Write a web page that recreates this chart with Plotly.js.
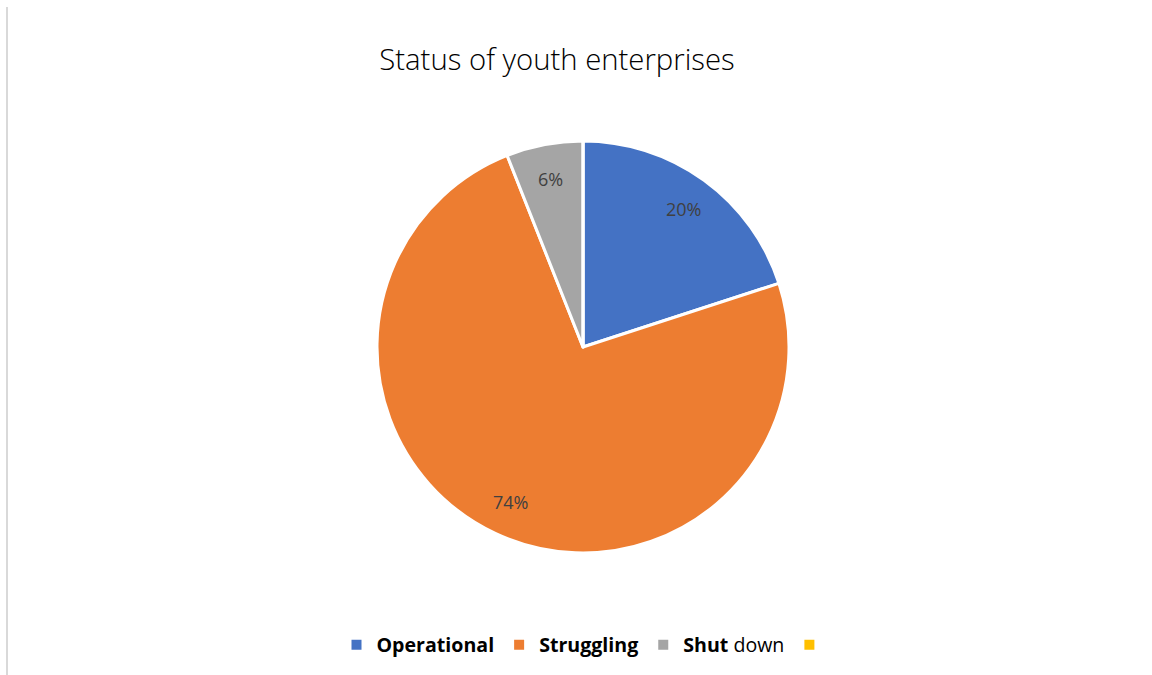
<!DOCTYPE html>
<html>
<head>
<meta charset="utf-8">
<script src="https://cdn.plot.ly/plotly-3.0.1.min.js"></script>
<style>html,body{margin:0;padding:0;background:#fff;}#chart{width:1152px;height:675px;}</style>
</head>
<body>
<div id="chart"></div>
<script>
const categories = ["<b>Operational</b>", "<b>Struggling</b>", "<b>Shut</b> down", " "];
const values = [20, 74, 6, 0];
const sliceLabels = ["20%", "74%", "6%", ""];
const colors = ["#4472C4", "#ED7D31", "#A5A5A5", "#FFC000"];

const W = 1152, H = 675;
const cx = 583, cy = 347, r = 206;
const labelRadius = 0.83;

const dom = {x: [(cx - r) / W, (cx + r) / W], y: [1 - (cy + r) / H, 1 - (cy - r) / H]};

const trace = {
  type: "pie",
  labels: categories,
  values: values,
  textinfo: "none",
  sort: false,
  direction: "clockwise",
  rotation: 0,
  marker: {colors: colors, line: {color: "#ffffff", width: 3}},
  domain: dom,
  showlegend: true,
  hoverinfo: "none"
};

// slice labels placed at each slice's mid-angle, derived from the values
const total = values.reduce((a, b) => a + b, 0);
const annotations = [];
let cum = 0;
values.forEach((v, i) => {
  const mid = (cum + v / 2) / total * 2 * Math.PI;
  cum += v;
  if (!sliceLabels[i]) return;
  const px = cx + labelRadius * r * Math.sin(mid);
  const py = cy - labelRadius * r * Math.cos(mid);
  annotations.push({
    xref: "paper", yref: "paper", x: px / W, y: 1 - py / H,
    text: sliceLabels[i], showarrow: false, xanchor: "center", yanchor: "middle",
    font: {family: "Open Sans, Liberation Sans, sans-serif", size: 18, color: "#404040"}
  });
});

const layout = {
  width: W, height: H,
  margin: {l: 0, r: 0, t: 0, b: 0},
  paper_bgcolor: "#ffffff",
  title: {
    text: "Status of youth enterprises",
    font: {family: "Open Sans, Liberation Sans, sans-serif", size: 29.3, color: "#000000", weight: 300},
    x: 557 / W, xanchor: "center", y: 1 - 60 / H, yanchor: "middle"
  },
  legend: {
    orientation: "h",
    x: 588 / W, xanchor: "center",
    y: 1 - 645 / H, yanchor: "middle",
    font: {family: "Open Sans, Liberation Sans, sans-serif", size: 19.6, color: "#000000"},
    itemsizing: "constant",
    traceorder: "normal"
  },
  annotations: annotations,
  shapes: [{
    type: "line", xref: "paper", yref: "paper",
    x0: 7 / W, x1: 7 / W, y0: 0, y1: 1 - 7 / H,
    line: {color: "#d9d9d9", width: 2}
  }]
};

Plotly.newPlot("chart", [trace], layout, {displayModeBar: false, staticPlot: true});
</script>
</body>
</html>
